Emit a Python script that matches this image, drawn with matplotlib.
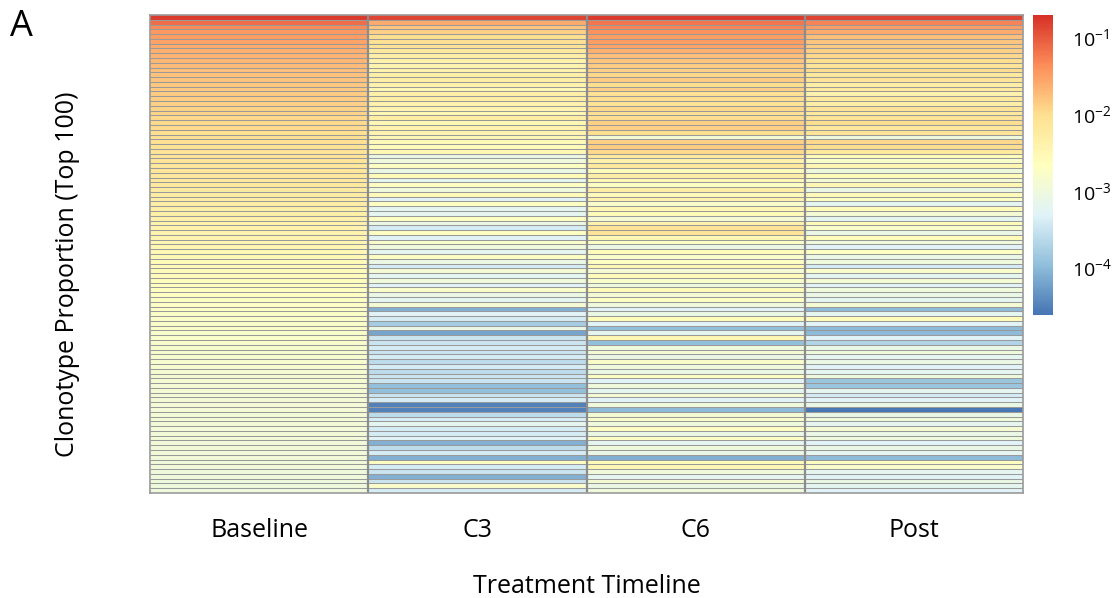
import numpy as np
import matplotlib
matplotlib.use("Agg")
import matplotlib.pyplot as plt
from matplotlib.colors import LinearSegmentedColormap, LogNorm

plt.rcParams['font.family'] = ['Open Sans', 'DejaVu Sans']
plt.rcParams['mathtext.default'] = 'regular'

timepoints = ["Baseline", "C3", "C6", "Post"]

# log10(clonotype proportion), top 100 clonotypes (rows, top to bottom)
baseline_log10 = [
    -0.80, -1.15, -1.35, -1.45, -1.50, -1.55, -1.60, -1.63, -1.66, -1.69,
    -1.72, -1.75, -1.77, -1.79, -1.81, -1.83, -1.85, -1.87, -1.89, -1.91,
    -1.93, -1.95, -1.97, -1.99, -2.01, -2.03, -2.05, -2.07, -2.09, -2.11,
    -2.13, -2.15, -2.17, -2.19, -2.21, -2.23, -2.25, -2.27, -2.29, -2.31,
    -2.33, -2.35, -2.37, -2.39, -2.41, -2.43, -2.45, -2.47, -2.49, -2.51,
    -2.53, -2.55, -2.57, -2.59, -2.61, -2.63, -2.65, -2.67, -2.69, -2.71,
    -2.73, -2.74, -2.75, -2.76, -2.77, -2.78, -2.79, -2.80, -2.81, -2.82,
    -2.83, -2.84, -2.85, -2.86, -2.87, -2.88, -2.89, -2.90, -2.90, -2.91,
    -2.91, -2.92, -2.92, -2.93, -2.93, -2.94, -2.94, -2.95, -2.95, -2.96,
    -2.96, -2.97, -2.97, -2.98, -2.98, -2.99, -2.99, -3.00, -3.00, -3.01,
]
c3_log10 = [
    -0.85, -1.60, -1.80, -1.90, -2.00, -2.05, -2.10, -2.20, -2.30, -2.40,
    -2.45, -2.40, -2.35, -2.30, -2.40, -2.50, -2.35, -2.30, -2.40, -2.45,
    -2.50, -2.30, -2.50, -2.40, -2.45, -2.50, -2.55, -2.60, -2.50, -3.10,
    -3.00, -2.70, -3.10, -2.60, -3.20, -2.70, -3.00, -2.60, -3.30, -2.70,
    -3.20, -3.20, -2.70, -3.10, -3.40, -2.70, -3.30, -2.80, -3.00, -3.20,
    -2.70, -3.10, -3.40, -2.90, -3.20, -3.00, -3.30, -2.80, -3.10, -3.20,
    -2.90, -4.10, -3.30, -3.40, -3.80, -3.10, -4.20, -3.50, -3.50, -3.40,
    -3.50, -3.40, -3.60, -3.40, -3.60, -3.50, -3.50, -3.95, -3.95, -3.50,
    -3.40, -4.50, -4.50, -3.60, -3.40, -3.20, -3.40, -3.40, -3.30, -4.10,
    -3.60, -3.40, -4.10, -2.70, -3.40, -3.50, -4.10, -3.50, -2.80, -3.40,
]
c6_log10 = [
    -0.80, -1.20, -1.30, -1.40, -1.50, -1.50, -1.55, -1.65, -1.75, -1.80,
    -1.85, -1.90, -1.95, -1.85, -2.00, -1.90, -2.05, -2.00, -2.10, -1.95,
    -2.05, -2.00, -1.90, -1.90, -2.00, -2.90, -1.90, -1.85, -1.95, -2.20,
    -2.40, -2.20, -2.60, -2.30, -2.50, -2.70, -2.30, -2.60, -2.40, -2.80,
    -2.50, -2.60, -2.90, -2.40, -2.10, -2.10, -2.50, -2.70, -3.10, -2.60,
    -2.80, -2.70, -2.50, -2.90, -2.60, -2.80, -3.00, -2.60, -2.90, -2.70,
    -3.00, -3.30, -3.10, -2.60, -3.30, -3.95, -3.20, -2.50, -3.95, -3.00,
    -2.90, -3.10, -2.80, -3.00, -3.10, -2.70, -3.30, -3.00, -3.20, -2.90,
    -3.30, -3.00, -4.00, -2.90, -2.80, -3.00, -2.70, -3.10, -2.70, -3.20,
    -3.00, -3.10, -4.10, -2.60, -2.50, -3.00, -3.20, -2.90, -3.10, -3.00,
]
post_log10 = [
    -0.85, -1.30, -1.50, -1.60, -1.75, -1.80, -1.85, -1.90, -1.95, -2.00,
    -2.10, -2.00, -2.20, -2.10, -2.30, -2.20, -2.40, -2.20, -2.30, -2.10,
    -2.20, -2.10, -2.00, -2.20, -2.10, -3.00, -1.95, -2.00, -2.20, -2.60,
    -2.80, -2.50, -3.00, -2.60, -2.90, -2.50, -3.10, -2.60, -2.70, -3.20,
    -2.60, -2.90, -3.20, -2.60, -2.80, -3.10, -2.60, -3.00, -3.30, -2.70,
    -3.10, -3.00, -3.40, -2.80, -3.20, -2.90, -3.30, -3.00, -3.10, -3.20,
    -2.90, -4.00, -3.20, -2.60, -3.30, -4.00, -4.00, -3.30, -3.70, -3.10,
    -3.00, -3.20, -3.10, -3.30, -3.20, -3.00, -3.90, -3.90, -3.20, -3.40,
    -3.30, -3.10, -4.60, -3.10, -3.00, -3.20, -2.90, -3.10, -3.00, -3.30,
    -3.10, -3.20, -4.00, -2.70, -2.80, -3.20, -3.30, -3.10, -3.20, -3.30,
]

colorbar_ticks = [1e-1, 1e-2, 1e-3, 1e-4]
colorbar_ticklabels = [r"$10^{-1}$", r"$10^{-2}$", r"$10^{-3}$", r"$10^{-4}$"]

series = [baseline_log10, c3_log10, c6_log10, post_log10]
for s in series:
    assert len(s) == 100, len(s)
data = 10.0 ** np.array(series).T  # rows x columns
n_rows, n_cols = data.shape

cmap = LinearSegmentedColormap.from_list(
    "rdylbu7", ["#4575B4", "#91BFDB", "#E0F3F8", "#FFFFBF", "#FEE090", "#FC8D59", "#D73027"])
norm = LogNorm(vmin=10 ** -4.62, vmax=10 ** -0.71)

fig = plt.figure(figsize=(11.15, 5.98), dpi=100)
ax = fig.add_axes([150 / 1115, 1 - 493 / 598, (1023 - 150) / 1115, (493 - 15) / 598])
mesh = ax.pcolormesh(data, cmap=cmap, norm=norm, edgecolors="none", linewidth=0)
ax.set_xlim(0, n_cols)
ax.set_ylim(n_rows, 0)
ax.hlines(np.arange(1, n_rows), 0, n_cols, color="#9a9a9a", lw=0.75)
ax.vlines(np.arange(1, n_cols), 0, n_rows, color="#8c8c8c", lw=1.6)
for sp in ax.spines.values():
    sp.set_color("#9a9a9a")
    sp.set_linewidth(1.2)
ax.set_xticks(np.arange(n_cols) + 0.5)
ax.set_xticklabels(timepoints, fontsize=18)
ax.tick_params(axis="x", length=0, pad=18)
ax.set_yticks([])
ax.set_xlabel("Treatment Timeline", fontsize=18, labelpad=22)
ax.set_ylabel("Clonotype Proportion (Top 100)", fontsize=18)
ax.yaxis.set_label_coords(-0.080, 0.458)

cax = fig.add_axes([1033 / 1115, 1 - 315 / 598, 20 / 1115, 300 / 598])
cb = fig.colorbar(mesh, cax=cax)
cb.set_ticks(colorbar_ticks)
cb.set_ticklabels(colorbar_ticklabels)
cb.minorticks_off()
cb.ax.tick_params(length=0, labelsize=14, pad=14)
cb.outline.set_visible(False)

fig.text(10 / 1115, 1 - 27 / 598, "A", fontsize=26, va="center", ha="left")

fig.savefig("out.png", dpi=100)
